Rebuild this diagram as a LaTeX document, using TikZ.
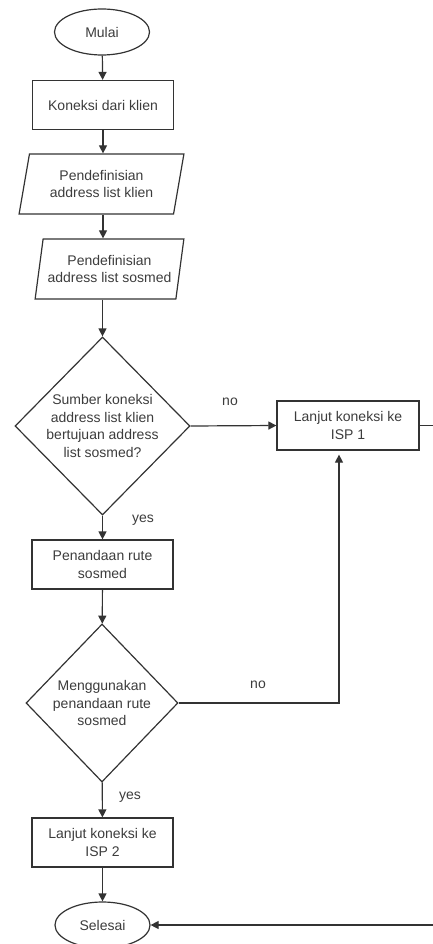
\documentclass[tikz,border=0pt]{standalone}
\usepackage{fontspec}
\setmainfont{Liberation Sans}
\usetikzlibrary{shapes.geometric,arrows.meta}

\definecolor{lineclr}{HTML}{333333}
\definecolor{textclr}{HTML}{3C3C3C}
\def\boxw{141pt}
\def\boxh{49pt}

\begin{document}
\begin{tikzpicture}[x=1pt,y=-1pt,>={Triangle[length=8pt,width=8pt]},draw=lineclr,line width=1.2pt]
    \tikzstyle{every node}=[text=textclr,font=\fontsize{14}{17.5}\selectfont,align=center]
    \tikzstyle{term}=[ellipse,draw,minimum width=95pt,minimum height=46pt,inner sep=0pt]
    \tikzstyle{proc}=[rectangle,draw,minimum width=\boxw,minimum height=\boxh,inner sep=0pt]
    \tikzstyle{io}=[trapezium,draw,trapezium left angle=75,trapezium right angle=105,trapezium stretches=true,minimum height=60pt,inner sep=0pt]
    \tikzstyle{decision}=[diamond,draw,inner sep=0pt]
    \tikzstyle{lbl}=[inner sep=0pt]

    \useasboundingbox (0,0) rectangle (433,944);

    \node[term] (mulai) at (102,32) {Mulai};
    \node[proc] (koneksi) at (103,105) {Koneksi dari klien};
    \node[io,minimum width=165pt] (defklien) at (101.5,184) {Pendefinisian\\address list klien};
    \node[io,minimum width=149pt] (defsosmed) at (109.5,269) {Pendefinisian\\address list sosmed};
    \node[decision,minimum width=175pt,minimum height=178pt] (cek1) at (102.5,426) {Sumber koneksi\\address list klien\\bertujuan address\\list sosmed?};
    \node[proc] (tandai) at (102.5,564.5) {Penandaan rute\\sosmed};
    \node[decision,minimum width=152pt,minimum height=158pt] (cek2) at (102,703) {Menggunakan\\penandaan rute\\sosmed};
    \node[proc] (isp2) at (102.5,842.5) {Lanjut koneksi ke\\ISP 2};
    \node[term] (selesai) at (102.5,925) {Selesai};
    \node[proc,minimum width=142pt] (isp1) at (348,425.5) {Lanjut koneksi ke\\ISP 1};

    \node[lbl] (no1) at (230,402) {no};
    \node[lbl] (yes1) at (143,520) {yes};
    \node[lbl] (no2) at (258,685) {no};
    \node[lbl] (yes2) at (130,797) {yes};

    \coordinate (up) at (339,0);
    \coordinate (rgt) at (440,0);

    \draw[->] (mulai) -- (koneksi);
    \draw[->] (koneksi) -- (koneksi |- defklien.north);
    \draw[->] (defklien.south -| koneksi) -- (koneksi |- defsosmed.north);
    \draw[->] (cek1.north |- defsosmed.south) -- (cek1.north);
    \draw[->] (cek1) -- (tandai);
    \draw[->] (cek1.east) -- (isp1.west);
    \draw[->] (tandai) -- (cek2);
    \draw[->,shorten >=4pt] (cek2.east) -| (up |- isp1.south);
    \draw[->] (cek2) -- (isp2);
    \draw[->] (isp2) -- (selesai);
    \draw[->] (isp1.east) -| (rgt |- selesai.east) -- (selesai.east);
\end{tikzpicture}
\end{document}
